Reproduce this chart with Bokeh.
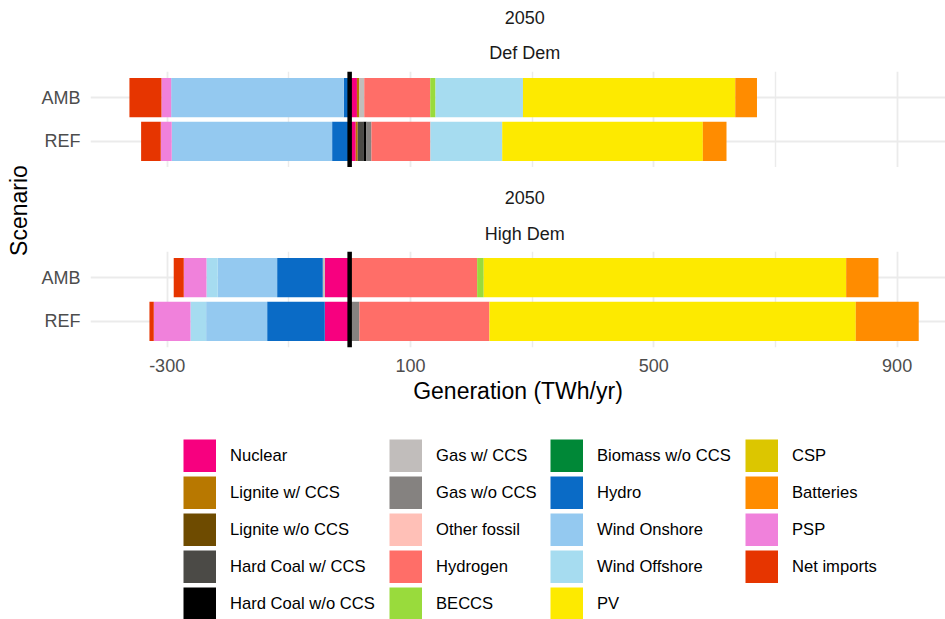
import math
from bokeh.plotting import figure
from bokeh.models import (ColumnDataSource, FactorRange, Range1d, FixedTicker,
                          Span, Legend, LegendItem)
from bokeh.layouts import row, column
from bokeh.core.properties import value
from bokeh.embed import file_html
from bokeh.resources import INLINE

FONT = "Liberation Sans"

# ---------------- data ----------------
techs = ["Nuclear", "Lignite w/ CCS", "Lignite w/o CCS", "Hard Coal w/ CCS",
         "Hard Coal w/o CCS", "Gas w/ CCS", "Gas w/o CCS", "Other fossil",
         "Hydrogen", "BECCS", "Biomass w/o CCS", "Hydro", "Wind Onshore",
         "Wind Offshore", "PV", "CSP", "Batteries", "PSP", "Net imports"]
colors = ["#F7007F", "#B87800", "#6E4B00", "#4B4A46", "#000000", "#C1BDBB",
          "#858280", "#FFC0B7", "#FF6E68", "#99DB3C", "#008837", "#0A6BC6",
          "#94C9F0", "#A6DCF0", "#FDEA00", "#DCC600", "#FF8C00", "#F081DB",
          "#E63500"]
scenarios = ["AMB", "REF"]
panel_top = "2050"
panels = ["Def Dem", "High Dem"]

# Generation (TWh/yr) per technology, in the order of `techs`
def_dem_amb = [12, 4, 0, 0, 0, 8, 0, 0, 108.5, 8.7, 0, -9.7, -283.7, 143.7,
               349, 0, 35.7, -16, -52.6]
def_dem_ref = [10, 3.3, 0, 9.4, 4.9, 0, 8.2, 0, 97, 0, 0, -28.8, -263.7, 118,
               329.8, 0, 38.9, -18, -32.3]
high_dem_amb = [-40.6, 0, 0, 0, 0, -3.6, 0, 0, 209.6, 10.8, 0, -75, -97.6,
                -18.6, 595.8, 0, 53.1, -37.3, -16.5]
high_dem_ref = [-40.9, 0, 0, 0, 0, 0, 16.1, 0, 213.7, 0, 0, -94.7, -100.3,
                -25.8, 602.2, 0, 103.5, -60.3, -7.1]

x_ticks = [-300, 100, 500, 900]
x_minor = [-100, 300, 700]
x_tick_labels = {-300: "-300", 100: "100", 500: "500", 900: "900"}

# ---------------- layout constants ----------------
W_LAB = 38
W_PANEL = 907
BORDER_L = 52
xr = Range1d(-426, 979.5)
GRID = "#EBEBEB"
X_MID = 288


def make_strip(height, lines, ys):
    s = figure(width=W_PANEL, height=height, x_range=xr,
               y_range=Range1d(0, height), x_axis_location=None,
               y_axis_location=None, min_border_left=BORDER_L,
               min_border_right=0, min_border_top=0, min_border_bottom=0,
               output_backend="svg", toolbar_location=None)
    s.grid.visible = False
    s.outline_line_color = None
    s.text(x=[X_MID] * len(lines), y=ys, text=lines, text_align="center",
           text_baseline="middle", text_font=value(FONT),
           text_font_size="18px", text_color="#1A1A1A")
    return s


def make_panel(amb, ref, show_x):
    height = 96 + (68 if show_x else 0)
    p = figure(width=W_PANEL, height=height, x_range=xr,
               y_range=FactorRange(factors=["REF", "AMB"], range_padding=0.1),
               x_axis_location="below" if show_x else None,
               min_border_left=BORDER_L, min_border_right=0, min_border_top=0,
               min_border_bottom=68 if show_x else 0,
               output_backend="svg", toolbar_location=None)
    p.outline_line_color = None
    data = {"AMB": amb, "REF": ref}
    pos = {s: 0.0 for s in scenarios}
    neg = {s: 0.0 for s in scenarios}
    for i, t in enumerate(techs):
        ys, ls, rs = [], [], []
        for s in scenarios:
            v = data[s][i]
            if v > 0:
                l, r = pos[s], pos[s] + v
                pos[s] = r
            elif v < 0:
                r, l = neg[s], neg[s] + v
                neg[s] = l
            else:
                continue
            ys.append(s); ls.append(l); rs.append(r)
        if ys:
            p.hbar(y="y", left="left", right="right", height=0.9,
                   source=ColumnDataSource(dict(y=ys, left=ls, right=rs)),
                   fill_color=colors[i], line_color=None)
    p.add_layout(Span(location=0, dimension="height", line_color="black",
                      line_width=4.5))
    tk = FixedTicker(ticks=x_ticks, minor_ticks=x_minor)
    p.xgrid.ticker = tk
    p.xgrid.grid_line_color = GRID
    p.xgrid.grid_line_width = 1.8
    p.xgrid.minor_grid_line_color = GRID
    p.xgrid.minor_grid_line_width = 1.4
    p.ygrid.grid_line_color = GRID
    p.ygrid.grid_line_width = 1.8
    ya = p.yaxis[0]
    ya.axis_line_color = None
    ya.major_tick_line_color = None
    ya.major_tick_out = 0
    ya.major_label_standoff = 10
    ya.major_label_text_font = FONT
    ya.major_label_text_font_size = "18px"
    ya.major_label_text_color = "#4D4D4D"
    if show_x:
        xa = p.xaxis[0]
        xa.ticker = tk
        xa.major_label_overrides = x_tick_labels
        xa.axis_line_color = None
        xa.major_tick_line_color = None
        xa.minor_tick_line_color = None
        xa.major_tick_out = 0
        xa.minor_tick_out = 0
        xa.major_label_standoff = 11
        xa.major_label_text_font = FONT
        xa.major_label_text_font_size = "18px"
        xa.major_label_text_color = "#4D4D4D"
        xa.axis_label = "Generation (TWh/yr)"
        xa.axis_label_text_font = FONT
        xa.axis_label_text_font_size = "23px"
        xa.axis_label_text_font_style = "normal"
        xa.axis_label_text_color = "#000000"
        xa.axis_label_standoff = 3
    return p


strip1 = make_strip(71, [panel_top, panels[0]], [54, 19])
panel1 = make_panel(def_dem_amb, def_dem_ref, False)
strip2 = make_strip(84, [panel_top, panels[1]], [54, 18])
panel2 = make_panel(high_dem_amb, high_dem_ref, True)

# y axis title
yl = figure(width=W_LAB, height=415, x_range=Range1d(0, W_LAB),
            y_range=Range1d(0, 415), x_axis_location=None,
            y_axis_location=None, min_border=0, output_backend="svg",
            toolbar_location=None)
yl.grid.visible = False
yl.outline_line_color = None
yl.text(x=[18], y=[205], text=["Scenario"], angle=math.pi / 2,
        text_align="center", text_baseline="middle", text_font=value(FONT),
        text_font_size="23px", text_color="#000000")

# legend (keys drawn as thick butt-capped lines -> full-size colour squares)
KEY = 33
lf = figure(width=945, height=204, x_range=Range1d(0, 1), y_range=Range1d(0, 1),
            x_axis_location=None, y_axis_location=None, min_border=0,
            output_backend="svg", toolbar_location=None)
lf.grid.visible = False
lf.outline_line_color = None
rends = [lf.line(x=[2, 3], y=[2, 2], line_color=c, line_width=KEY,
                 line_cap="butt") for c in colors]
groups = [(0, 5), (5, 10), (10, 15), (15, 19)]
locs = [(183, -1), (389, -1), (550, -1), (745, 36)]
for (a, b), loc in zip(groups, locs):
    items = [LegendItem(label=techs[i], renderers=[rends[i]]) for i in range(a, b)]
    lf.add_layout(Legend(items=items, location=loc, orientation="vertical",
                         glyph_width=KEY, glyph_height=KEY, label_height=KEY,
                         label_standoff=14, spacing=4, padding=0, margin=0,
                         border_line_color=None, background_fill_alpha=0,
                         label_text_font=FONT, label_text_font_size="16.6px",
                         label_text_color="#000000"))

layout = column(row(yl, column(strip1, panel1, strip2, panel2)), lf)
open("out.html", "w").write(file_html(layout, INLINE))
